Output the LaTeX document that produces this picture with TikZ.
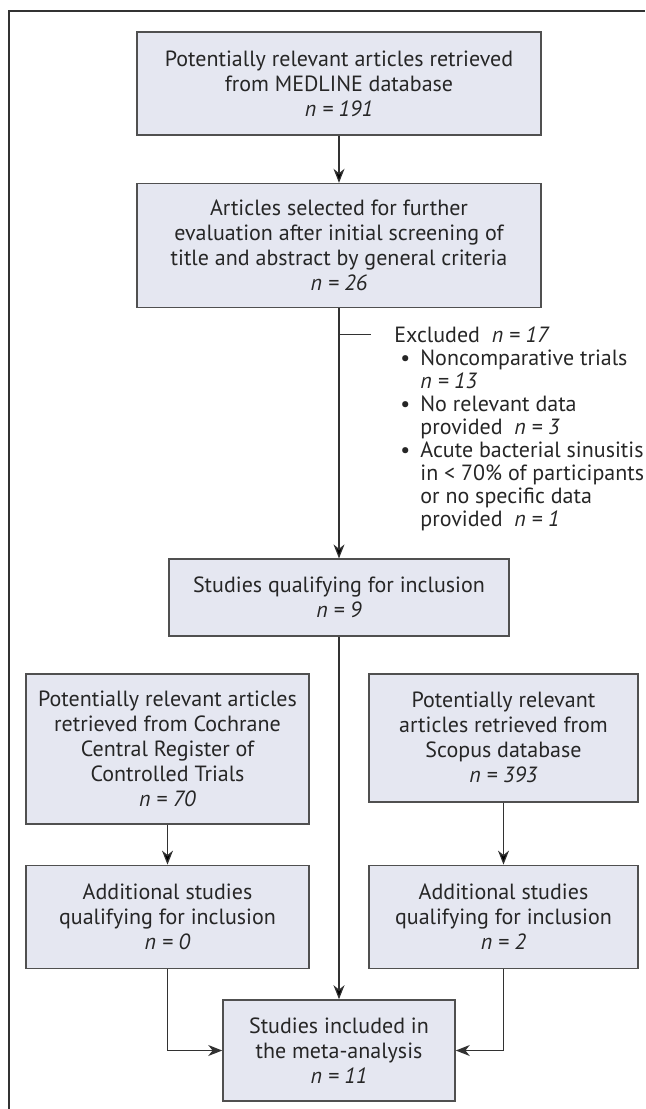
\documentclass[tikz,border=0pt]{standalone}
\usepackage{fontspec}
\setmainfont{PT Sans}
\usetikzlibrary{positioning,arrows.meta}
\definecolor{boxfill}{RGB}{229,231,241}
\definecolor{linegray}{RGB}{50,50,50}
\definecolor{edgegray}{RGB}{80,80,80}
\newcommand{\bul}{\makebox[13pt][l]{\hspace{3pt}\textbullet}}
\newcommand{\ind}{\hspace*{13pt}}

\begin{document}
\begin{tikzpicture}[
    box/.style={draw=edgegray, fill=boxfill, line width=0.8pt, align=center,
                inner sep=0pt, text=black!85, font=\fontsize{11}{12.5}\selectfont},
    arr/.style={draw=linegray, line width=0.6pt, -{Stealth[length=7pt,width=5.5pt,inset=2.2pt]}},
    ln/.style={draw=linegray, line width=0.6pt}]
    \useasboundingbox (0,0) rectangle (322.5pt,-554.5pt);
    % frame
    \draw[ln] (4.5pt,-554.5pt) -- (4.5pt,-5.5pt) -- (322.5pt,-5.5pt);
    % main column
    \node[box, minimum width=202pt, minimum height=51.5pt](a) at (169.5pt,-41.75pt)
        {Potentially relevant articles retrieved\\from MEDLINE database\\\textit{n = 191}};
    \node[box, minimum width=202pt, minimum height=62pt](b)[below=23.5pt of a]
        {Articles selected for further\\evaluation after initial screening of\\title and abstract by general criteria\\\textit{n = 26}};
    \node[box, minimum width=170pt, minimum height=38.5pt](c)[below=125pt of b]
        {Studies qualifying for inclusion\\\textit{n = 9}};
    % side sources
    \node[box, minimum width=141.5pt, minimum height=75pt](d)[below=18pt of c, xshift=-85.75pt]
        {Potentially relevant articles\\retrieved from Cochrane\\Central Register of\\Controlled Trials\\\textit{n = 70}};
    \node[box, minimum width=134.5pt, minimum height=64pt](e)[below=18pt of c, xshift=82.25pt]
        {Potentially relevant\\articles retrieved from\\Scopus database\\\textit{n = 393}};
    \node[box, minimum width=141.5pt, minimum height=51.5pt](f)[below=20pt of d]
        {Additional studies\\qualifying for inclusion\\\textit{n = 0}};
    \node[box, minimum width=134.5pt, minimum height=51.5pt](g)[below=31pt of e]
        {Additional studies\\qualifying for inclusion\\\textit{n = 2}};
    \coordinate (fg) at (c.south |- f.south);
    \node[box, minimum width=116pt, minimum height=50.5pt](h)[below=15pt of fg]
        {Studies included in\\the meta-analysis\\\textit{n = 11}};
    % exclusions
    \coordinate[below=13pt of b](x);
    \coordinate[right=16pt of x](xe);
    \node[align=left, inner sep=0pt, text=black!85, font=\fontsize{11}{11.5}\selectfont](ex)
        [right=11.5pt of xe, anchor=north west, yshift=4pt]
        {Excluded\ \ \textit{n = 17}\\
         \bul Noncomparative trials\\
         \ind\textit{n = 13}\\
         \bul No relevant data\\
         \ind provided\ \ \textit{n = 3}\\
         \bul Acute bacterial sinusitis\\
         \ind in < 70\% of participants\\
         \ind or no specific data\\
         \ind provided\ \ \textit{n = 1}};
    \path[arr](a) edge (b)
              (b) edge (c)
              (c) edge (h)
              (d) edge (f)
              (e) edge (g);
    \draw[ln] (x) -- (xe);
    \draw[arr] (f) |- (h);
    \draw[arr] (g) |- (h);
\end{tikzpicture}
\end{document}
